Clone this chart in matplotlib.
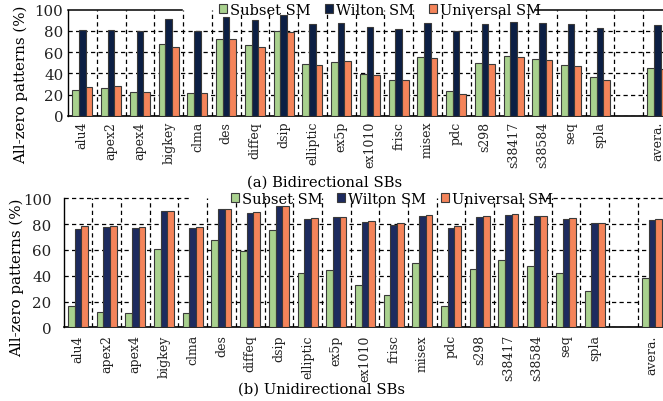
import numpy as np
import matplotlib
matplotlib.use("Agg")
import matplotlib.pyplot as plt
from matplotlib.patches import Patch

categories = ["alu4", "apex2", "apex4", "bigkey", "clma", "des", "diffeq", "dsip",
              "elliptic", "ex5p", "ex1010", "frisc", "misex", "pdc", "s298",
              "s38417", "s38584", "seq", "spla", "", "avera."]

nan = np.nan
# (a) Bidirectional SBs
bi_subset = [24.5, 25.8, 22.0, 67.6, 21.7, 72.4, 66.4, 80.2, 48.5, 50.7, 39.0, 33.4,
             55.0, 23.0, 49.7, 56.0, 53.8, 47.5, 36.2, nan, 45.3]
bi_wilton = [80.8, 80.8, 79.9, 91.5, 79.6, 92.8, 90.3, 95.0, 86.2, 87.2, 83.4, 82.1,
             87.7, 79.9, 86.8, 88.7, 87.2, 86.2, 82.7, nan, 85.5]
bi_universal = [27.0, 28.0, 22.4, 65.0, 21.4, 72.4, 64.8, 79.0, 47.5, 51.3, 38.0, 33.7,
                54.4, 20.8, 48.5, 55.4, 52.8, 47.2, 34.0, nan, 44.0]
# (b) Unidirectional SBs
uni_subset = [16.3, 12.1, 11.1, 60.7, 11.3, 67.4, 59.1, 75.2, 42.3, 44.7, 32.6, 25.3,
              49.8, 16.3, 45.2, 51.9, 47.3, 41.9, 27.9, nan, 38.2]
uni_wilton = [76.2, 77.8, 77.0, 90.2, 76.7, 91.5, 88.6, 93.8, 84.2, 85.5, 81.4, 79.5,
              86.3, 76.7, 85.7, 87.3, 86.3, 84.2, 80.8, nan, 83.4]
uni_universal = [78.3, 78.3, 77.5, 90.0, 77.5, 91.5, 89.4, 93.8, 85.0, 85.7, 82.6, 80.6,
                 87.3, 78.3, 85.9, 87.5, 86.5, 85.0, 81.2, nan, 84.2]

series_names = ["Subset SM", "Wilton SM", "Universal SM"]
yticks = [0, 20, 40, 60, 80, 100]

GREEN = "#a9d18e"
ORANGE = "#f4845a"
NAVY_A = "#0c1f44"
NAVY_B = "#1d2b5f"
EDGE = "#3a3a3a"

plt.rcParams["font.family"] = ["DejaVu Serif"]

W, H = 663, 402
fig = plt.figure(figsize=(W / 100, H / 100), dpi=100)

ax1 = fig.add_axes([68 / W, 1 - 116.7 / H, 603.75 / W, 106 / H])
ax2 = fig.add_axes([63.6 / W, 1 - 328.3 / H, 602.7 / W, 129 / H])

x = np.arange(len(categories))
bw = 0.233
dash = (0, (3.4, 2.6))


def draw(ax, vals, navy, pad_y, pad_x):
    colors = [GREEN, navy, ORANGE]
    for k, (v, c) in enumerate(zip(vals, colors)):
        ax.bar(x + (k - 1) * bw, v, bw, color=c, edgecolor=EDGE, linewidth=0.8, zorder=3)
    ax.set_xlim(-0.5, len(categories) - 0.5)
    ax.set_ylim(0, 100)
    ax.set_yticks(yticks)
    ax.set_xticks(x)
    ax.set_xticklabels(categories, rotation=90, fontsize=9.0, va="top")
    ax.set_xticks(x[:-1] + 0.5, minor=True)
    ax.tick_params(axis="both", which="both", length=0)
    ax.tick_params(axis="y", labelsize=10.8, pad=pad_y, colors="#222222")
    ax.tick_params(axis="x", pad=pad_x, colors="#222222")
    ax.grid(which="minor", axis="x", color="black", linestyle=dash, linewidth=0.9, zorder=1)
    ax.grid(which="major", axis="y", color="black", linestyle=dash, linewidth=0.9, zorder=1)
    ax.grid(which="major", axis="x", visible=False)
    ax.set_axisbelow(True)
    ax.spines["right"].set_visible(False)
    ax.spines["top"].set_visible(False)
    ax.spines["left"].set_linewidth(1.0)
    ax.spines["bottom"].set_linewidth(1.2)
    ax.yaxis.get_gridlines()[-1].set_visible(False)


draw(ax1, [bi_subset, bi_wilton, bi_universal], NAVY_A, 3.4, 3.6)
draw(ax2, [uni_subset, uni_wilton, uni_universal], NAVY_B, 8.6, 5.0)

# top border of (a): solid, interrupted by legend
ax1.axhline(100, 0, (182 - 68) / 603.75, color="black", linewidth=1.1, clip_on=False)
ax1.axhline(100, (535 - 68) / 603.75, 1, color="black", linewidth=1.1, clip_on=False)
# 100 gridline of (b): dashed, interrupted by legend
ax2.axhline(100, 0, (190 - 63.6) / 602.7, color="black", linestyle=dash, linewidth=0.9, clip_on=False)
ax2.axhline(100, (538 - 63.6) / 602.7, 1, color="black", linestyle=dash, linewidth=0.9, clip_on=False)


def legend(ax, navy, cx, cy):
    handles = [Patch(facecolor=c, edgecolor=EDGE, linewidth=0.8)
               for c in (GREEN, navy, ORANGE)]
    fig.legend(handles, series_names, loc="center", bbox_to_anchor=(cx / W, 1 - cy / H),
               ncol=3, frameon=False, fontsize=10.5, handlelength=0.55, handleheight=0.55,
               handletextpad=0.2, columnspacing=1.0, borderpad=0.0, borderaxespad=0.0)


legend(ax1, NAVY_A, 380, 11)
legend(ax2, NAVY_B, 392, 200)

ylabel = "All-zero patterns (%)"
fig.text(21 / W, 1 - 85 / H, ylabel, rotation=90, ha="center", va="center", fontsize=10.8)
fig.text(17 / W, 1 - 278 / H, ylabel, rotation=90, ha="center", va="center", fontsize=10.8)

fig.text(325 / W, 1 - 183 / H, "(a) Bidirectional SBs", ha="center", va="center", fontsize=10.6)
fig.text(321 / W, 1 - 390 / H, "(b) Unidirectional SBs", ha="center", va="center", fontsize=10.6)

fig.savefig("out.png", dpi=100)
